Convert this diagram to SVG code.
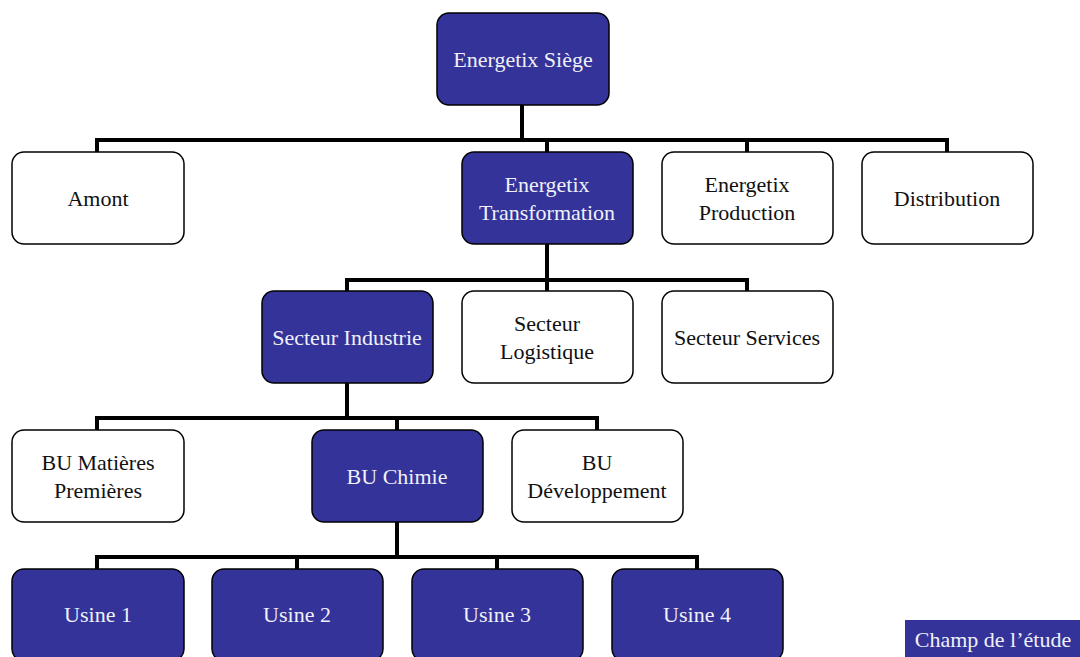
<svg xmlns="http://www.w3.org/2000/svg" width="1080" height="657" viewBox="0 0 1080 657">
<style>
.n rect{stroke:#000;stroke-width:1.5}
.w rect{fill:#fff}
.b rect{fill:#333399}
text{font-family:'Liberation Serif','Times New Roman',serif;font-size:22px;text-anchor:middle}
.w text{fill:#111}
.b text{fill:#f0f0f8}
#connectors path{fill:none;stroke:#000;stroke-width:4}
</style>
<rect width="1080" height="657" fill="#fff"/>
<g id="connectors">
<path d="M522 105V140M97 152V140H947V152M547 140V152M747 140V152"/>
<path d="M547 244V280M347 291V280H747V291M547 280V291"/>
<path d="M347 383V418M97 430V418H597V430M397 418V430"/>
<path d="M397 522V557M97 569V557H697V569M297 557V569M497 557V569"/>
</g>
<g id="n-siege" class="n b"><rect x="437" y="13" width="172" height="92" rx="12"/><text x="523" y="67">Energetix Siège</text></g>
<g id="n-amont" class="n w"><rect x="12" y="152" width="172" height="92" rx="12"/><text x="98" y="206">Amont</text></g>
<g id="n-transfo" class="n b"><rect x="462" y="152" width="171" height="92" rx="12"/><text x="547" y="192">Energetix</text><text x="547" y="220">Transformation</text></g>
<g id="n-prod" class="n w"><rect x="662" y="152" width="171" height="92" rx="12"/><text x="747" y="192">Energetix</text><text x="747" y="220">Production</text></g>
<g id="n-distrib" class="n w"><rect x="862" y="152" width="171" height="92" rx="12"/><text x="947" y="206">Distribution</text></g>
<g id="n-industrie" class="n b"><rect x="262" y="291" width="171" height="92" rx="12"/><text x="347" y="345">Secteur Industrie</text></g>
<g id="n-logistique" class="n w"><rect x="462" y="291" width="171" height="92" rx="12"/><text x="547" y="331">Secteur</text><text x="547" y="359">Logistique</text></g>
<g id="n-services" class="n w"><rect x="662" y="291" width="171" height="92" rx="12"/><text x="747" y="345">Secteur Services</text></g>
<g id="n-matieres" class="n w"><rect x="12" y="430" width="172" height="92" rx="12"/><text x="98" y="470">BU Matières</text><text x="98" y="498">Premières</text></g>
<g id="n-chimie" class="n b"><rect x="312" y="430" width="171" height="92" rx="12"/><text x="397" y="484">BU Chimie</text></g>
<g id="n-dev" class="n w"><rect x="512" y="430" width="171" height="92" rx="12"/><text x="597" y="470">BU</text><text x="597" y="498">Développement</text></g>
<g id="n-usine1" class="n b"><rect x="12" y="569" width="172" height="92" rx="12"/><text x="98" y="622">Usine 1</text></g>
<g id="n-usine2" class="n b"><rect x="212" y="569" width="171" height="92" rx="12"/><text x="297" y="622">Usine 2</text></g>
<g id="n-usine3" class="n b"><rect x="412" y="569" width="171" height="92" rx="12"/><text x="497" y="622">Usine 3</text></g>
<g id="n-usine4" class="n b"><rect x="612" y="569" width="171" height="92" rx="12"/><text x="697" y="622">Usine 4</text></g>
<g id="legend" class="b"><rect x="905" y="620" width="175" height="37"/><text x="993" y="647">Champ de l’étude</text></g>
</svg>
